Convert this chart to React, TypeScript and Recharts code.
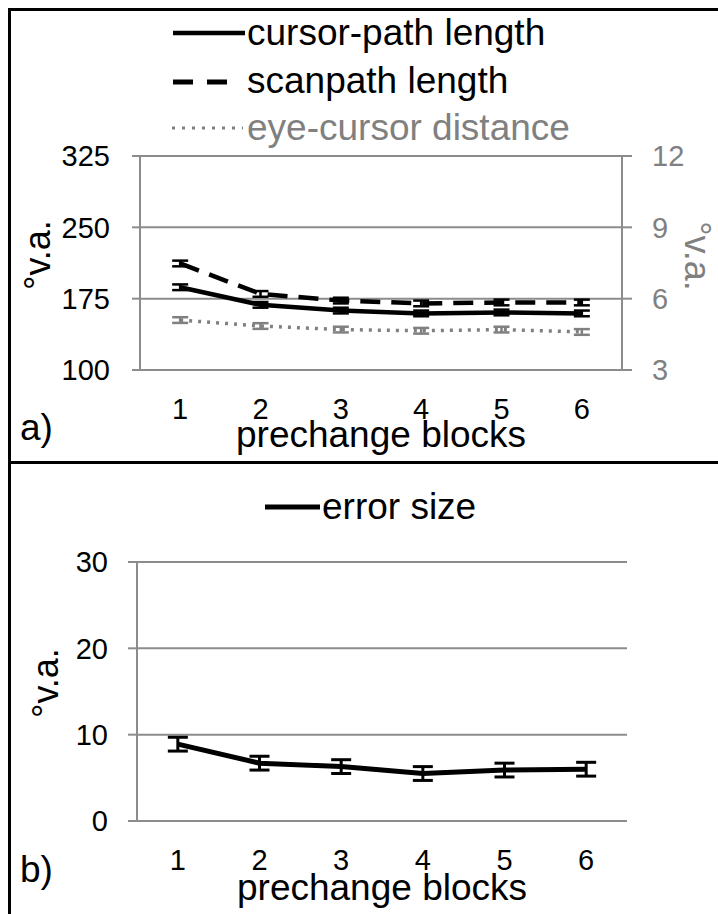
import { LineChart, Line, XAxis, YAxis, CartesianGrid, ErrorBar } from "recharts";

// prechange blocks
const blocks = [1, 2, 3, 4, 5, 6];
const blockEdges = [0.5, 1.5, 2.5, 3.5, 4.5, 5.5, 6.5];

// panel a) - left axis (°v.a.)
const cursorPath = [187, 168.5, 162.5, 159.5, 160.5, 159.5];
const cursorPathErr = [3, 3, 3, 3, 3, 3];
const scanpath = [212, 180, 173, 170, 171, 171];
const scanpathErr = [3, 3, 3, 3, 3, 3];
// panel a) - right axis (°v.a.)
const eyeCursor = [5.1, 4.85, 4.7, 4.65, 4.7, 4.6];
const eyeCursorErr = [0.12, 0.12, 0.12, 0.12, 0.12, 0.12];

// panel b)
const errorSize = [8.9, 6.7, 6.3, 5.5, 5.9, 6.0];
const errorSizeErr = [0.8, 0.8, 0.8, 0.8, 0.8, 0.8];

const leftTicksA = [100, 175, 250, 325];
const rightTicksA = [3, 6, 9, 12];
const ticksB = [0, 10, 20, 30];

const FONT = "'Liberation Sans', Arial, sans-serif";
const GRID = "#8c8c8c";
const GREY = "#808080";

const dataA = blocks.map((b, i) => ({
    block: b,
    cursor: cursorPath[i],
    cursorErr: cursorPathErr[i],
    scan: scanpath[i],
    scanErr: scanpathErr[i],
    eye: eyeCursor[i],
    eyeErr: eyeCursorErr[i],
}));

const dataB = blocks.map((b, i) => ({ block: b, err: errorSize[i], errErr: errorSizeErr[i] }));

const axisLine = { stroke: GRID, strokeWidth: 2 };

const xAxes = (labelOffset: number) => [
    <XAxis
        key="edges"
        xAxisId="edges"
        type="number"
        dataKey="block"
        domain={[0.5, 6.5]}
        ticks={blockEdges}
        interval={0}
        allowDataOverflow
        tick={false}
        tickSize={10}
        height={0}
        axisLine={axisLine}
        tickLine={axisLine}
    />,
    <XAxis
        key="labels"
        type="number"
        dataKey="block"
        domain={[0.5, 6.5]}
        ticks={blocks}
        interval={0}
        allowDataOverflow
        tickSize={0}
        tickMargin={28}
        height={80}
        axisLine={false}
        tickLine={false}
        tick={{ fill: "#000", fontSize: 29, fontFamily: FONT }}
        label={{
            value: "prechange blocks",
            position: "insideBottom",
            offset: labelOffset,
            fill: "#000",
            fontSize: 37,
            fontFamily: FONT,
        }}
    />,
];

const ChartA = () => (
    <LineChart width={707} height={450} data={dataA} margin={{ top: 145, right: 10, bottom: 11, left: 10 }}>
        <CartesianGrid yAxisId="l" horizontal vertical={false} stroke={GRID} strokeWidth={2} />
        {xAxes(3)}
        <YAxis
            yAxisId="l"
            domain={[100, 325]}
            ticks={leftTicksA}
            interval={0}
            width={119}
            tickSize={8}
            tickMargin={22}
            axisLine={axisLine}
            tickLine={axisLine}
            tick={{ fill: "#000", fontSize: 29, fontFamily: FONT }}
        />
        <YAxis
            yAxisId="r"
            orientation="right"
            domain={[3, 12]}
            ticks={rightTicksA}
            interval={0}
            width={86}
            tickSize={10}
            tickMargin={20}
            axisLine={axisLine}
            tickLine={axisLine}
            tick={{ fill: GREY, fontSize: 29, fontFamily: FONT }}
        />
        <Line yAxisId="r" dataKey="eye" stroke={GREY} strokeWidth={3.5} strokeDasharray="3 6" dot={false} isAnimationActive={false}>
            <ErrorBar dataKey="eyeErr" width={8} stroke={GREY} strokeWidth={2.5} direction="y" />
        </Line>
        <Line yAxisId="l" dataKey="scan" stroke="#000" strokeWidth={4.5} strokeDasharray="20 11" dot={false} isAnimationActive={false}>
            <ErrorBar dataKey="scanErr" width={8} stroke="#000" strokeWidth={2.5} direction="y" />
        </Line>
        <Line yAxisId="l" dataKey="cursor" stroke="#000" strokeWidth={4.5} dot={false} isAnimationActive={false}>
            <ErrorBar dataKey="cursorErr" width={8} stroke="#000" strokeWidth={2.5} direction="y" />
        </Line>
    </LineChart>
);

const ChartB = () => (
    <LineChart width={707} height={450} data={dataB} margin={{ top: 98, right: 91, bottom: 13, left: 10 }}>
        <CartesianGrid horizontal vertical={false} stroke={GRID} strokeWidth={2} />
        {xAxes(1)}
        <YAxis
            domain={[0, 30]}
            ticks={ticksB}
            interval={0}
            width={116}
            tickSize={9}
            tickMargin={20}
            axisLine={axisLine}
            tickLine={axisLine}
            tick={{ fill: "#000", fontSize: 29, fontFamily: FONT }}
        />
        <Line dataKey="err" stroke="#000" strokeWidth={5} dot={false} isAnimationActive={false}>
            <ErrorBar dataKey="errErr" width={10} stroke="#000" strokeWidth={3} direction="y" />
        </Line>
    </LineChart>
);

const vaTitle = (cx: number, cy: number, angle: number, fill: string) => (
    <text
        x={cx}
        y={cy}
        transform={`rotate(${angle} ${cx} ${cy})`}
        textAnchor="middle"
        dominantBaseline="central"
        fontSize={36}
        fill={fill}
    >
        °v.a.
    </text>
);

export default function App() {
    return (
        <>
            <style>{"body{margin:0;overflow:hidden}"}</style>
            <div
                style={{
                    position: "absolute",
                    left: 8,
                    top: 8,
                    width: 707,
                    height: 906,
                    borderLeft: "3px solid #000",
                    borderTop: "3px solid #000",
                    fontFamily: FONT,
                }}
            >
                <div style={{ height: 450, borderBottom: "3px solid #000" }}>
                    <ChartA />
                </div>
                <div style={{ height: 450 }}>
                    <ChartB />
                </div>
            </div>
            <svg
                width={718}
                height={914}
                style={{ position: "absolute", left: 0, top: 0, pointerEvents: "none" }}
                fontFamily={FONT}
            >
                {/* legend a) */}
                <line x1={173} y1={33} x2={245} y2={33} stroke="#000" strokeWidth={4.5} />
                <text x={247} y={45} fontSize={37} fill="#000">cursor-path length</text>
                <line x1={173} y1={82} x2={228} y2={82} stroke="#000" strokeWidth={5} strokeDasharray="20 14" />
                <text x={247} y={93} fontSize={37} fill="#000">scanpath length</text>
                <line x1={172} y1={128} x2={243} y2={128} stroke={GREY} strokeWidth={3} strokeDasharray="3 7" />
                <text x={247} y={140} fontSize={37} fill={GREY}>eye-cursor distance</text>

                {vaTitle(37, 255, -90, "#000")}
                {vaTitle(697, 256, 90, GREY)}
                <text x={20} y={440} fontSize={37} fill="#000">a)</text>

                {/* legend b) */}
                <line x1={265} y1={507} x2={320} y2={507} stroke="#000" strokeWidth={5} />
                <text x={322} y={519} fontSize={37} fill="#000">error size</text>

                {vaTitle(45, 683, -90, "#000")}
                <text x={20} y={882} fontSize={37} fill="#000">b)</text>
            </svg>
        </>
    );
}
